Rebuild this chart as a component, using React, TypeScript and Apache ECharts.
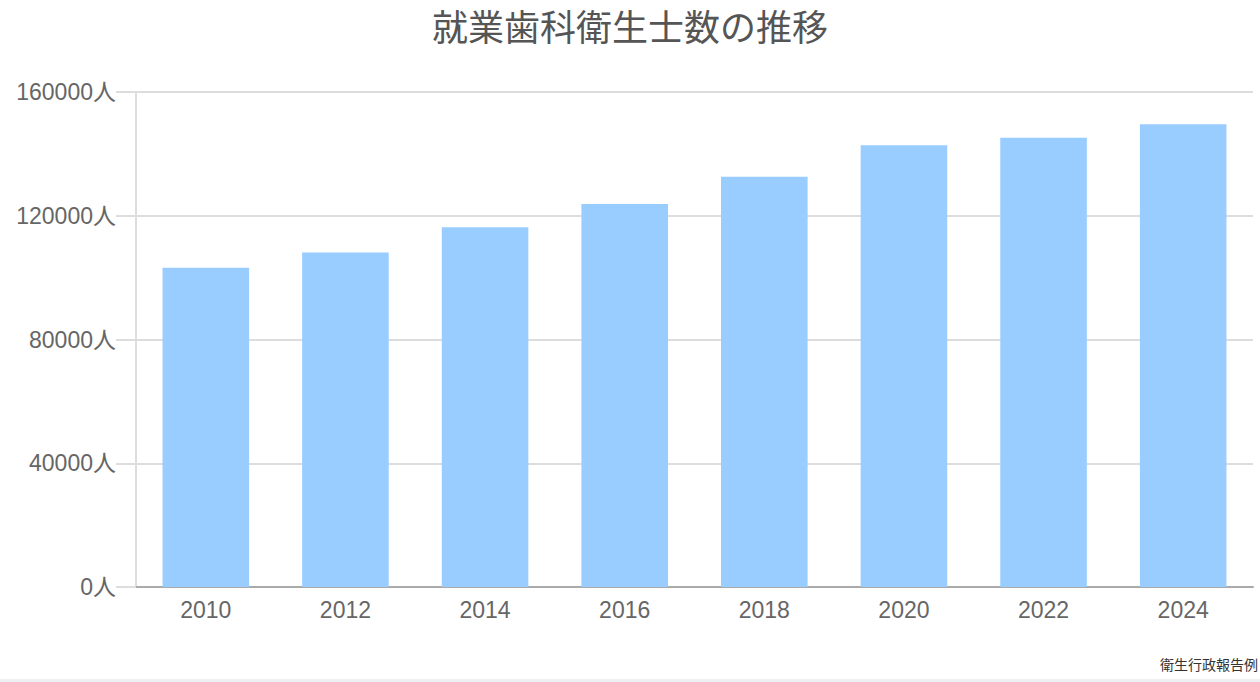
import React, { useEffect, useRef } from 'react';
import * as echarts from 'echarts';

// 就業歯科衛生士数（衛生行政報告例）
const years = ['2010', '2012', '2014', '2016', '2018', '2020', '2022', '2024'];
const hygienists = [103180, 108123, 116299, 123831, 132629, 142760, 145183, 149579];
const yTicks = [0, 40000, 80000, 120000, 160000];

const CJK = '"Noto Sans CJK JP", sans-serif';
const LATIN = '"Liberation Sans", "Noto Sans CJK JP", sans-serif';

const App: React.FC = () => {
    const chartRef = useRef<HTMLDivElement | null>(null);

    useEffect(() => {
        if (!chartRef.current) return;
        const myChart = echarts.init(chartRef.current, null, { renderer: 'svg' });

        myChart.setOption({
            animation: false,
            backgroundColor: '#fff',
            textStyle: { fontFamily: LATIN },
            title: {
                text: '就業歯科衛生士数の推移',
                left: 'center',
                top: 2,
                textStyle: { fontSize: 36, fontWeight: 'normal', color: '#555', fontFamily: CJK },
            },
            grid: { left: 136, right: 7, top: 92, bottom: 95 },
            xAxis: {
                type: 'category',
                data: years,
                axisLine: { lineStyle: { color: '#aaa', width: 2 } },
                axisTick: { show: false },
                axisLabel: { fontSize: 23, color: '#666', margin: 11, fontFamily: LATIN },
            },
            yAxis: {
                type: 'value',
                min: yTicks[0],
                max: yTicks[yTicks.length - 1],
                interval: 40000,
                axisLine: { show: true, lineStyle: { color: '#ddd', width: 2 } },
                axisTick: { show: true, length: 20, lineStyle: { color: '#ddd', width: 2 } },
                splitLine: { lineStyle: { color: '#ddd', width: 2 } },
                axisLabel: {
                    fontSize: 23,
                    color: '#666',
                    margin: 20,
                    fontFamily: LATIN,
                    formatter: (v: number) => `${v}人`,
                },
            },
            series: [
                {
                    type: 'bar',
                    data: hygienists,
                    barWidth: '62%',
                    itemStyle: { color: '#99CCFF' },
                },
            ],
            graphic: [
                {
                    type: 'text',
                    right: 2,
                    top: 657,
                    style: { text: '衛生行政報告例', fill: '#333', font: `14px ${CJK}` },
                },
                {
                    type: 'rect',
                    left: 0,
                    top: 679,
                    shape: { width: 1260, height: 3 },
                    style: { fill: '#eef0f3' },
                },
            ],
        });

        const onResize = () => myChart.resize();
        window.addEventListener('resize', onResize);
        return () => {
            window.removeEventListener('resize', onResize);
            myChart.dispose();
        };
    }, []);

    return (
        <div
            ref={chartRef}
            style={{ position: 'fixed', left: 0, top: 0, width: '1260px', height: '682px' }}
        />
    );
};

export default App;
